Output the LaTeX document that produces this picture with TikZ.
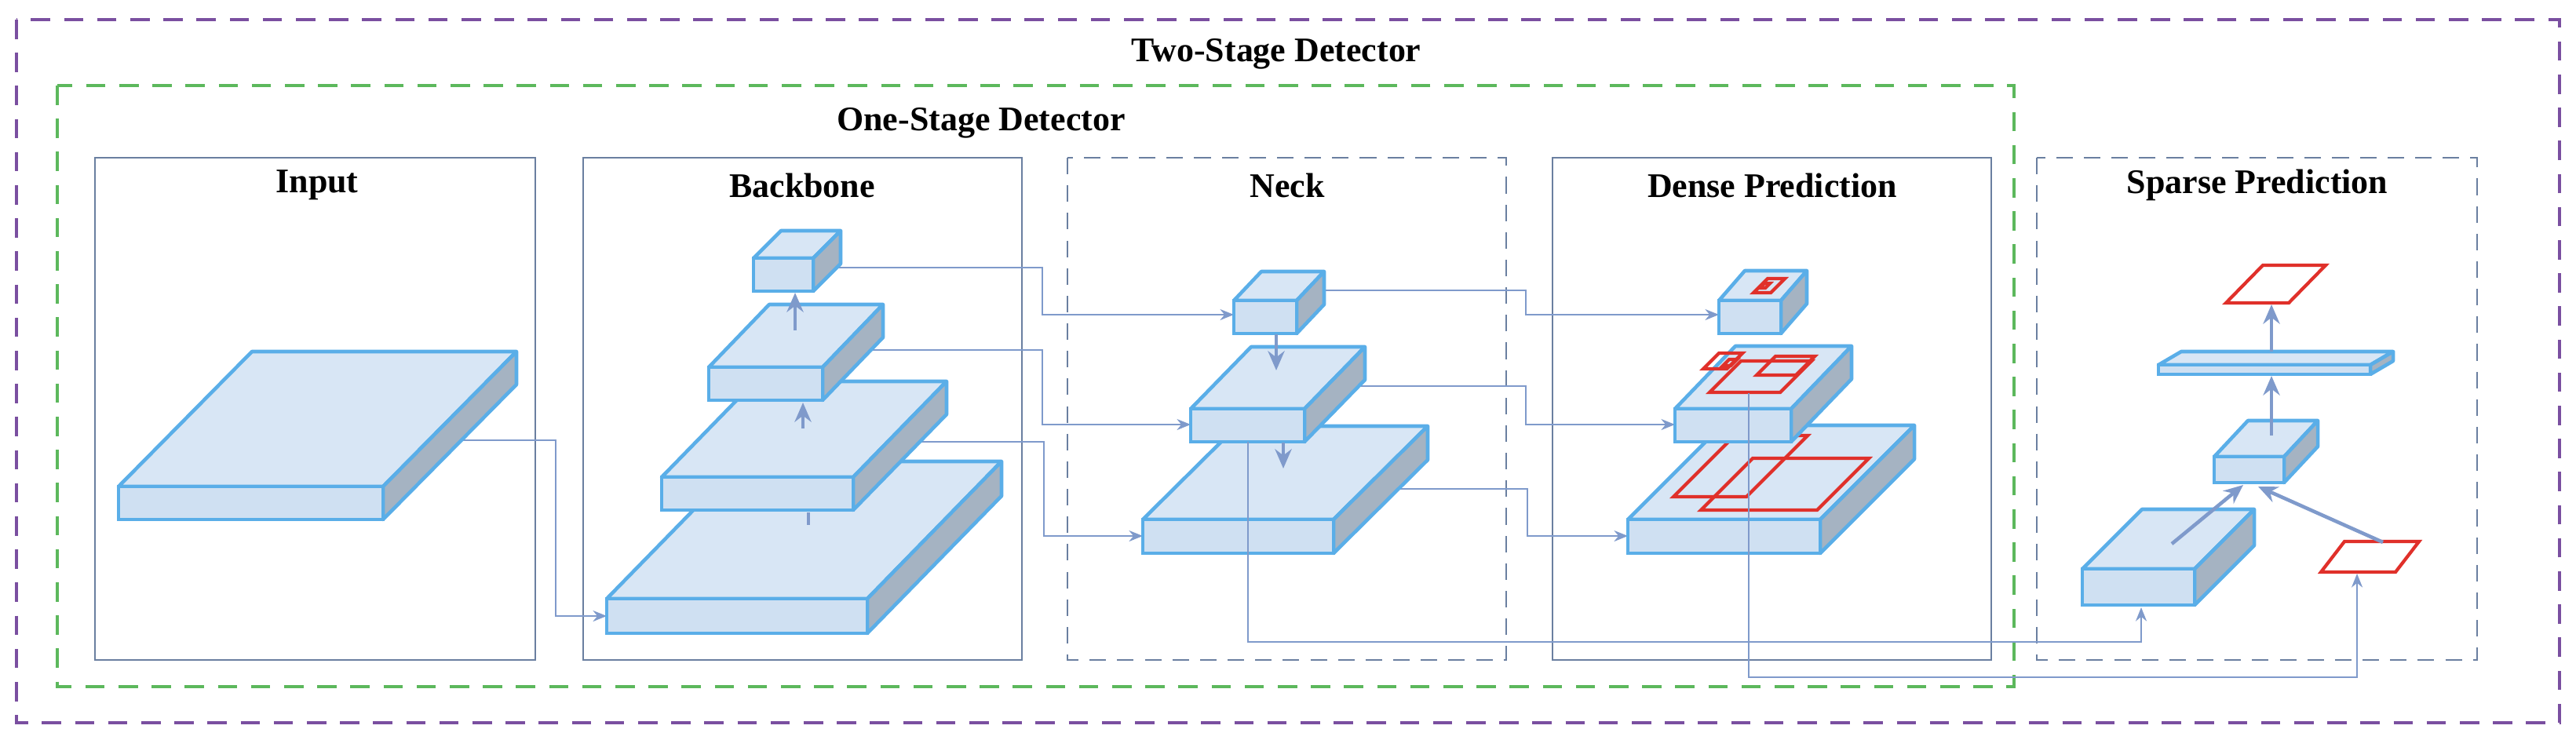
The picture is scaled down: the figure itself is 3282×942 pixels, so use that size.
\documentclass[tikz,border=0pt]{standalone}
\usepackage{fontspec}
\setmainfont{Liberation Serif}
\usetikzlibrary{arrows.meta}
\definecolor{edgeblue}{HTML}{5AAEE8}
\definecolor{frontc}{HTML}{CFE0F2}
\definecolor{topc}{HTML}{D8E6F5}
\definecolor{sidec}{HTML}{A5B3C2}
\definecolor{frame}{HTML}{6A7FA0}
\definecolor{conn}{HTML}{7F9ACB}
\definecolor{purp}{HTML}{7A4FA0}
\definecolor{grn}{HTML}{5CB85C}
\definecolor{redb}{HTML}{E0302A}
\tikzset{
 slabtop/.style={fill=topc,draw=edgeblue,line width=1.3pt,line join=round},
 slabside/.style={fill=sidec,draw=edgeblue,line width=1.3pt,line join=round},
 slabfront/.style={fill=frontc,draw=edgeblue,line width=1.3pt},
 panel/.style={draw=frame,line width=0.8pt},
 dpanel/.style={draw=frame,line width=0.8pt,dash pattern=on 6pt off 4pt},
 title/.style={font=\fontsize{12.5}{15}\selectfont\bfseries},
 conn/.style={draw=conn,line width=0.6pt,-{Stealth[length=5pt,width=4pt]}},
 thick arr/.style={draw=conn,line width=1.3pt,-{Stealth[length=7pt,width=6pt]}},
 redbox/.style={draw=redb,line width=1.2pt,line join=miter},
}
% x, y(top of front), w, h, dx, dy
\newcommand\slab[6]{%
 \filldraw[slabtop] (#1,#2) -- (#1+#5,#2+#6) -- (#1+#5+#3,#2+#6) -- (#1+#3,#2) -- cycle;
 \filldraw[slabside] (#1+#3,#2) -- (#1+#3+#5,#2+#6) -- (#1+#3+#5,#2+#6+#4) -- (#1+#3,#2+#4) -- cycle;
 \filldraw[slabfront] (#1,#2) rectangle (#1+#3,#2+#4);}
% red parallelogram: bottom-left x, bottom y, width, height, shift
\newcommand\rpar[5]{\draw[redbox] (#1,#2) -- (#1+#3,#2) -- (#1+#3+#5,#2-#4) -- (#1+#5,#2-#4) -- cycle;}
\begin{document}
\begin{tikzpicture}[x=0.01cm,y=-0.01cm]
\useasboundingbox (0,0) rectangle (3282,942);
% frames
\draw[draw=purp,line width=1.2pt,dash pattern=on 7pt off 5pt] (21,25) rectangle (3261,921);
\node[title] (t2) at (1626,69) {Two-Stage Detector};
\draw[draw=grn,line width=1.2pt,dash pattern=on 7pt off 5pt] (73,109) rectangle (2566,875);
\node[title] (t1) at (1250,157) {One-Stage Detector};
\draw[panel] (121,201) rectangle (682,841);
\draw[panel] (743,201) rectangle (1302,841);
\draw[dpanel] (1360,201) rectangle (1919,841);
\draw[panel] (1978,201) rectangle (2537,841);
\draw[dpanel] (2595,201) rectangle (3156,841);
\node[title] (ti) at (404,236) {Input};
\node[title] (tb) at (1022,236) {Backbone};
\node[title] (tn) at (1640,236) {Neck};
\node[title] (td) at (2258,236) {Dense Prediction};
\node[title] (ts) at (2876,236) {Sparse Prediction};
% connectors (behind)
\coordinate (i0) at (560,561);
\coordinate (b1in) at (773,785);
\draw[conn] (i0) -| (708,785) -- (b1in);
\draw[conn] (1065,341) -| (1328,401) -- (1572,401);
\draw[conn] (1090,446) -| (1328,541) -- (1517,541);
\draw[conn] (1156,563) -| (1330,683) -- (1456,683);
\draw[conn] (1687,370) -| (1944,401) -- (2190,401);
\draw[conn] (1707,492) -| (1944,541) -- (2134,541);
\draw[conn] (1765,623) -| (1946,683) -- (2074,683);
% input
\slab{151}{620}{337}{42}{170}{-172}
% backbone
\slab{773}{763}{332}{44}{171}{-175}
\draw[draw=conn,line width=1.3pt] (1030,653) -- (1030,669);
\slab{843}{608}{244}{42}{119}{-122}
\slab{903}{468}{145}{42}{77}{-80}
\slab{960}{329}{76}{42}{35}{-35}
\draw[thick arr] (1023,546) -- (1023,513);
\draw[thick arr] (1013,421) -- (1013,373);
% neck
\slab{1456}{662}{243}{43}{120}{-119}
\slab{1517}{521}{145}{42}{77}{-79}
\slab{1572}{383}{80}{42}{35}{-37}
\draw[thick arr] (1626,426) -- (1626,472);
\draw[thick arr] (1635,564) -- (1635,597);
% dense
\slab{2074}{662}{245}{43}{120}{-120}
\rpar{2132}{633}{93}{78}{78}
\rpar{2167}{650}{148}{66}{66}
\slab{2134}{521}{148}{42}{77}{-80}
\rpar{2178}{500}{90}{40}{40}
\rpar{2170}{470}{30}{20}{20}
\rpar{2238}{478}{50}{24}{24}
\rpar{2195}{466}{10}{8}{8}
\slab{2190}{383}{79}{42}{33}{-38}
\rpar{2234}{373}{22}{18}{18}
\rpar{2242}{367}{7}{6}{6}
% long connectors
\draw[conn] (1590,563) |- (2728,818) -- (2728,774);
\draw[conn] (2228,501) |- (3003,863) -- (3003,731);
% sparse
\slab{2653}{725}{143}{46}{76}{-76}
\slab{2821}{582}{89}{33}{43}{-46}
\filldraw[slabtop] (2750,465) -- (2779,448) -- (3049,448) -- (3020,465) -- cycle;
\filldraw[slabfront] (2750,465) rectangle (3020,477);
\filldraw[slabside] (3020,465) -- (3049,448) -- (3049,460) -- (3020,477) -- cycle;
\rpar{2836}{386}{80}{48}{47}
\rpar{2957}{729}{95}{39}{30}
\draw[thick arr] (2767,693) -- (2858,618);
\draw[thick arr] (3036,691) -- (2877,620);
\draw[thick arr] (2894,555) -- (2894,479);
\draw[thick arr] (2894,448) -- (2894,388);
\end{tikzpicture}
\end{document}
